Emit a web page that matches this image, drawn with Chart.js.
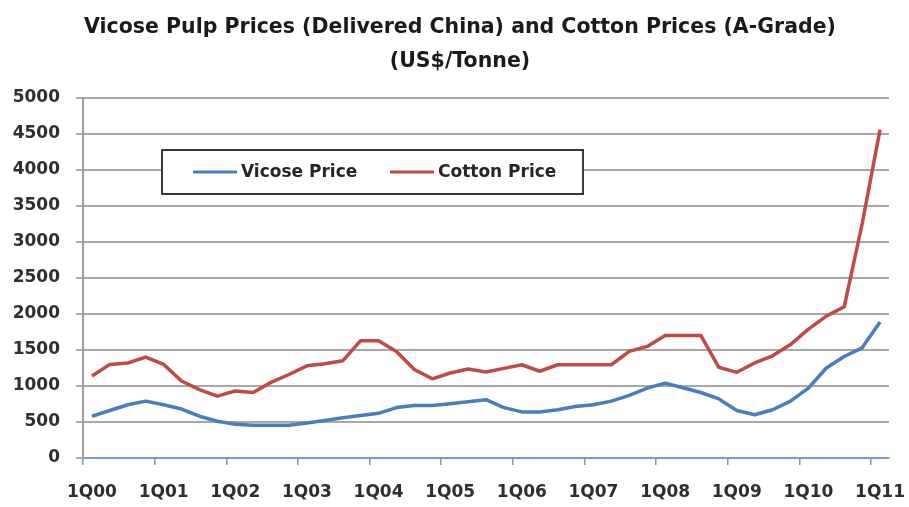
<!DOCTYPE html>
<html>
<head>
<meta charset="utf-8">
<script src="https://cdn.jsdelivr.net/npm/chart.js@4/dist/chart.umd.min.js"></script>
<style>
  html, body { margin: 0; padding: 0; background: #ffffff; }
  #wrap { width: 909px; height: 507px; }
</style>
</head>
<body>
<div id="wrap"><canvas id="price-chart" width="909" height="507"></canvas></div>
<script>
// Quarterly categories 1Q00 .. 1Q11 ==============================
const quarters = [
  "1Q00", "2Q00", "3Q00", "4Q00", "1Q01", "2Q01", "3Q01", "4Q01",
  "1Q02", "2Q02", "3Q02", "4Q02", "1Q03", "2Q03", "3Q03", "4Q03",
  "1Q04", "2Q04", "3Q04", "4Q04", "1Q05", "2Q05", "3Q05", "4Q05",
  "1Q06", "2Q06", "3Q06", "4Q06", "1Q07", "2Q07", "3Q07", "4Q07",
  "1Q08", "2Q08", "3Q08", "4Q08", "1Q09", "2Q09", "3Q09", "4Q09",
  "1Q10", "2Q10", "3Q10", "4Q10", "1Q11",
];

// US$/Tonne
const vicosePrice = [
  580, 660, 740, 790, 740, 680, 580, 510,
  470, 455, 455, 455, 485, 520, 560, 590,
  620, 700, 730, 730, 755, 780, 810, 700,
  640, 640, 670, 715, 740, 790, 870, 970,
  1040, 975, 910, 820, 660, 600, 670, 790,
  970, 1250, 1410, 1530, 1890,
];
const cottonPrice = [
  1140, 1300, 1320, 1400, 1300, 1070, 950, 860,
  930, 910, 1050, 1160, 1280, 1310, 1350, 1630,
  1630, 1480, 1230, 1100, 1180, 1235, 1195, 1245,
  1295, 1205, 1295, 1295, 1295, 1295, 1480, 1550,
  1700, 1700, 1700, 1260, 1190, 1320, 1420, 1575,
  1790, 1970, 2100, 3250, 4560,
];

// y axis 0..5000 step 500
const yMin = 0;
const yMax = 5000;
const yStep = 500;

const titleLines = [
  "Vicose Pulp Prices (Delivered China) and Cotton Prices (A-Grade)",
  "(US$/Tonne)",
];

const FONT = "'DejaVu Sans', sans-serif";

// two-line heading, centred a bit right of the canvas middle ======
const heading = {
  id: "heading",
  afterDraw(chart) {
    const ctx = chart.ctx;
    ctx.save();
    ctx.font = "bold 20.5px " + FONT;
    ctx.fillStyle = "#1a1a1a";
    ctx.textAlign = "center";
    ctx.textBaseline = "middle";
    ctx.fillText(titleLines[0], 460, 28);
    ctx.fillText(titleLines[1], 460, 62);
    ctx.restore();
  },
};

// legend box drawn inside the plot area ==========================
const insideLegend = {
  id: "insideLegend",
  afterDatasetsDraw(chart) {
    const { ctx, chartArea: { left, top } } = chart;
    const bx = left + 79;
    const by = top + 52;
    const bw = 421;
    const bh = 44;

    ctx.save();
    ctx.fillStyle = "#ffffff";
    ctx.fillRect(bx, by, bw, bh);
    ctx.strokeStyle = "#3a3a3a";
    ctx.lineWidth = 2;
    ctx.strokeRect(bx, by, bw, bh);

    const items = [
      { x: bx + 31, ds: chart.data.datasets[0] },
      { x: bx + 228, ds: chart.data.datasets[1] },
    ];
    const cy = by + bh / 2;
    ctx.font = "bold 17px " + FONT;
    ctx.textBaseline = "middle";
    ctx.textAlign = "left";
    items.forEach(function (it) {
      ctx.strokeStyle = it.ds.borderColor;
      ctx.lineWidth = 3;
      ctx.beginPath();
      ctx.moveTo(it.x, cy);
      ctx.lineTo(it.x + 44, cy);
      ctx.stroke();
      ctx.fillStyle = "#262626";
      ctx.fillText(it.ds.label, it.x + 48, cy + 1);
    });
    ctx.restore();
  },
};

const priceChart = new Chart(document.getElementById("price-chart"), {
  type: "line",
  data: {
    labels: quarters,
    datasets: [
      {
        label: "Vicose Price",
        data: vicosePrice,
        borderColor: "#4a7ebb",
        borderWidth: 3.5,
        pointRadius: 0,
        tension: 0,
        borderJoinStyle: "round",
      },
      {
        label: "Cotton Price",
        data: cottonPrice,
        borderColor: "#be4b48",
        borderWidth: 3.5,
        pointRadius: 0,
        tension: 0,
        borderJoinStyle: "round",
      },
    ],
  },
  options: {
    responsive: false,
    animation: false,
    layout: { padding: { left: 0, right: 20, top: 98, bottom: 0 } },
    plugins: {
      legend: { display: false },
      tooltip: { enabled: false },
      title: { display: false },
    },
    scales: {
      x: {
        type: "category",
        offset: true,
        afterFit(scale) {
          scale.height = 49;
          scale.paddingLeft = 0;
          scale.paddingRight = 0;
        },
        border: { color: "#7b9bcf", width: 2 },
        grid: {
          offset: true,
          drawOnChartArea: false,
          drawTicks: true,
          tickLength: 7,
          lineWidth: 1.5,
          tickColor: function (c) {
            return c.index % 4 === 0 ? "#8095b5" : "rgba(0,0,0,0)";
          },
        },
        ticks: {
          autoSkip: false,
          maxRotation: 0,
          minRotation: 0,
          padding: 17,
          color: "#2e2e2e",
          font: { family: FONT, size: 17, weight: "bold" },
          callback: function (value, index) {
            return index % 4 === 0 ? this.getLabelForValue(value) : "";
          },
        },
      },
      y: {
        min: yMin,
        max: yMax,
        afterFit(scale) { scale.width = 83; },
        border: { color: "#9c9c9c", width: 2 },
        grid: {
          color: function (c) {
            return c.tick && c.tick.value === 0 ? "rgba(0,0,0,0)" : "#a8a8a8";
          },
          tickColor: "#a8a8a8",
          lineWidth: 2,
          tickLength: 7,
        },
        ticks: {
          stepSize: yStep,
          padding: 16,
          color: "#2e2e2e",
          font: { family: FONT, size: 17, weight: "bold" },
          callback: function (value) {
            return String(value);
          },
        },
      },
    },
  },
  plugins: [insideLegend, heading],
});
</script>
</body>
</html>
